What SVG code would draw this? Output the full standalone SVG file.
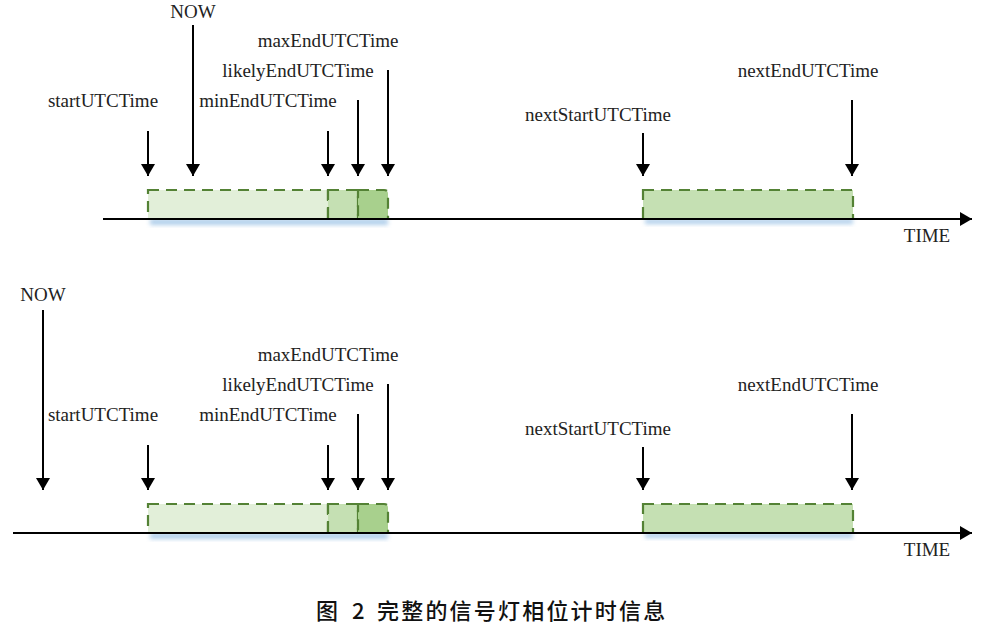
<svg xmlns="http://www.w3.org/2000/svg" width="992" height="631" viewBox="0 0 992 631">
<defs>
<marker id="ah" viewBox="0 0 12 14" refX="12" refY="7" markerWidth="12" markerHeight="14" markerUnits="userSpaceOnUse" orient="auto"><path d="M0,0 L12,7 L0,14 Z" fill="#000"/></marker>
<filter id="sh" x="-10%" y="-50%" width="120%" height="200%"><feGaussianBlur stdDeviation="2"/></filter>
<style>
.lb{font-family:'Liberation Serif','Times New Roman','DejaVu Serif',serif;font-size:19px;fill:#222;text-anchor:middle}
.cap{font-family:'Noto Sans CJK SC','Noto Sans',sans-serif;font-size:22px;font-weight:500;fill:#111}
.ln{stroke:#000;stroke-width:2;fill:none;marker-end:url(#ah)}
.bx{stroke:#548235;stroke-width:2.2;stroke-dasharray:11,7}
.l1{fill:#e2efd9}.l2{fill:#c5e0b3}.l3{fill:#a8d08d}
.shd{fill:#9dc3e6;filter:url(#sh);opacity:0.8}
</style>
</defs>
<g id="top">
<rect class="shd" x="150" y="219" width="238" height="6"/>
<rect class="shd" x="645" y="219" width="208" height="5"/>
<g id="t-box1"><rect class="bx l1" x="148" y="190" width="180" height="29"/></g>
<g id="t-box2"><rect class="bx l2" x="328" y="190" width="30" height="29"/></g>
<g id="t-box3"><path class="bx l3" d="M358,190 H384 Q388,190 388,194 V219 H358 Z"/></g>
<g id="t-box4"><rect class="bx l2" x="643" y="190" width="210" height="29"/></g>
<g id="t-labels" class="lb">
<text class="lb" x="193" y="18">NOW</text>
<text class="lb" x="328" y="47">maxEndUTCTime</text>
<text class="lb" x="298" y="77">likelyEndUTCTime</text>
<text class="lb" x="103" y="107">startUTCTime</text>
<text class="lb" x="268" y="107">minEndUTCTime</text>
<text class="lb" x="598" y="121">nextStartUTCTime</text>
<text class="lb" x="808" y="77">nextEndUTCTime</text>
<text class="lb" x="927" y="242">TIME</text>
</g>
</g>
<g id="bottom">
<rect class="shd" x="150" y="533" width="238" height="6"/>
<rect class="shd" x="645" y="533" width="208" height="5"/>
<g id="b-box1"><rect class="bx l1" x="148" y="504" width="180" height="29"/></g>
<g id="b-box2"><rect class="bx l2" x="328" y="504" width="30" height="29"/></g>
<g id="b-box3"><path class="bx l3" d="M358,504 H384 Q388,504 388,508 V533 H358 Z"/></g>
<g id="b-box4"><rect class="bx l2" x="643" y="504" width="210" height="29"/></g>
<g id="b-labels" class="lb">
<text class="lb" x="43" y="301">NOW</text>
<text class="lb" x="328" y="361">maxEndUTCTime</text>
<text class="lb" x="298" y="391">likelyEndUTCTime</text>
<text class="lb" x="103" y="421">startUTCTime</text>
<text class="lb" x="268" y="421">minEndUTCTime</text>
<text class="lb" x="598" y="435">nextStartUTCTime</text>
<text class="lb" x="808" y="391">nextEndUTCTime</text>
<text class="lb" x="927" y="556">TIME</text>
</g>
</g>
<g id="connectors">
<line class="ln" x1="103" y1="219" x2="972" y2="219"/>
<line class="ln" x1="148" y1="131" x2="148" y2="176"/>
<line class="ln" x1="193" y1="25" x2="193" y2="176"/>
<line class="ln" x1="328" y1="131" x2="328" y2="176"/>
<line class="ln" x1="358" y1="100" x2="358" y2="176"/>
<line class="ln" x1="388" y1="70" x2="388" y2="176"/>
<line class="ln" x1="643" y1="133" x2="643" y2="176"/>
<line class="ln" x1="852" y1="100" x2="852" y2="176"/>
<line class="ln" x1="13" y1="533" x2="972" y2="533"/>
<line class="ln" x1="43" y1="310" x2="43" y2="490"/>
<line class="ln" x1="148" y1="445" x2="148" y2="490"/>
<line class="ln" x1="328" y1="445" x2="328" y2="490"/>
<line class="ln" x1="358" y1="414" x2="358" y2="490"/>
<line class="ln" x1="388" y1="384" x2="388" y2="490"/>
<line class="ln" x1="643" y1="447" x2="643" y2="490"/>
<line class="ln" x1="852" y1="414" x2="852" y2="490"/>
</g>
<g id="caption">
<text class="cap" y="619"><tspan x="316">图</tspan><tspan x="352">2</tspan><tspan x="377" letter-spacing="2.2">完整的信号灯相位计时信息</tspan></text>
</g>
</svg>
